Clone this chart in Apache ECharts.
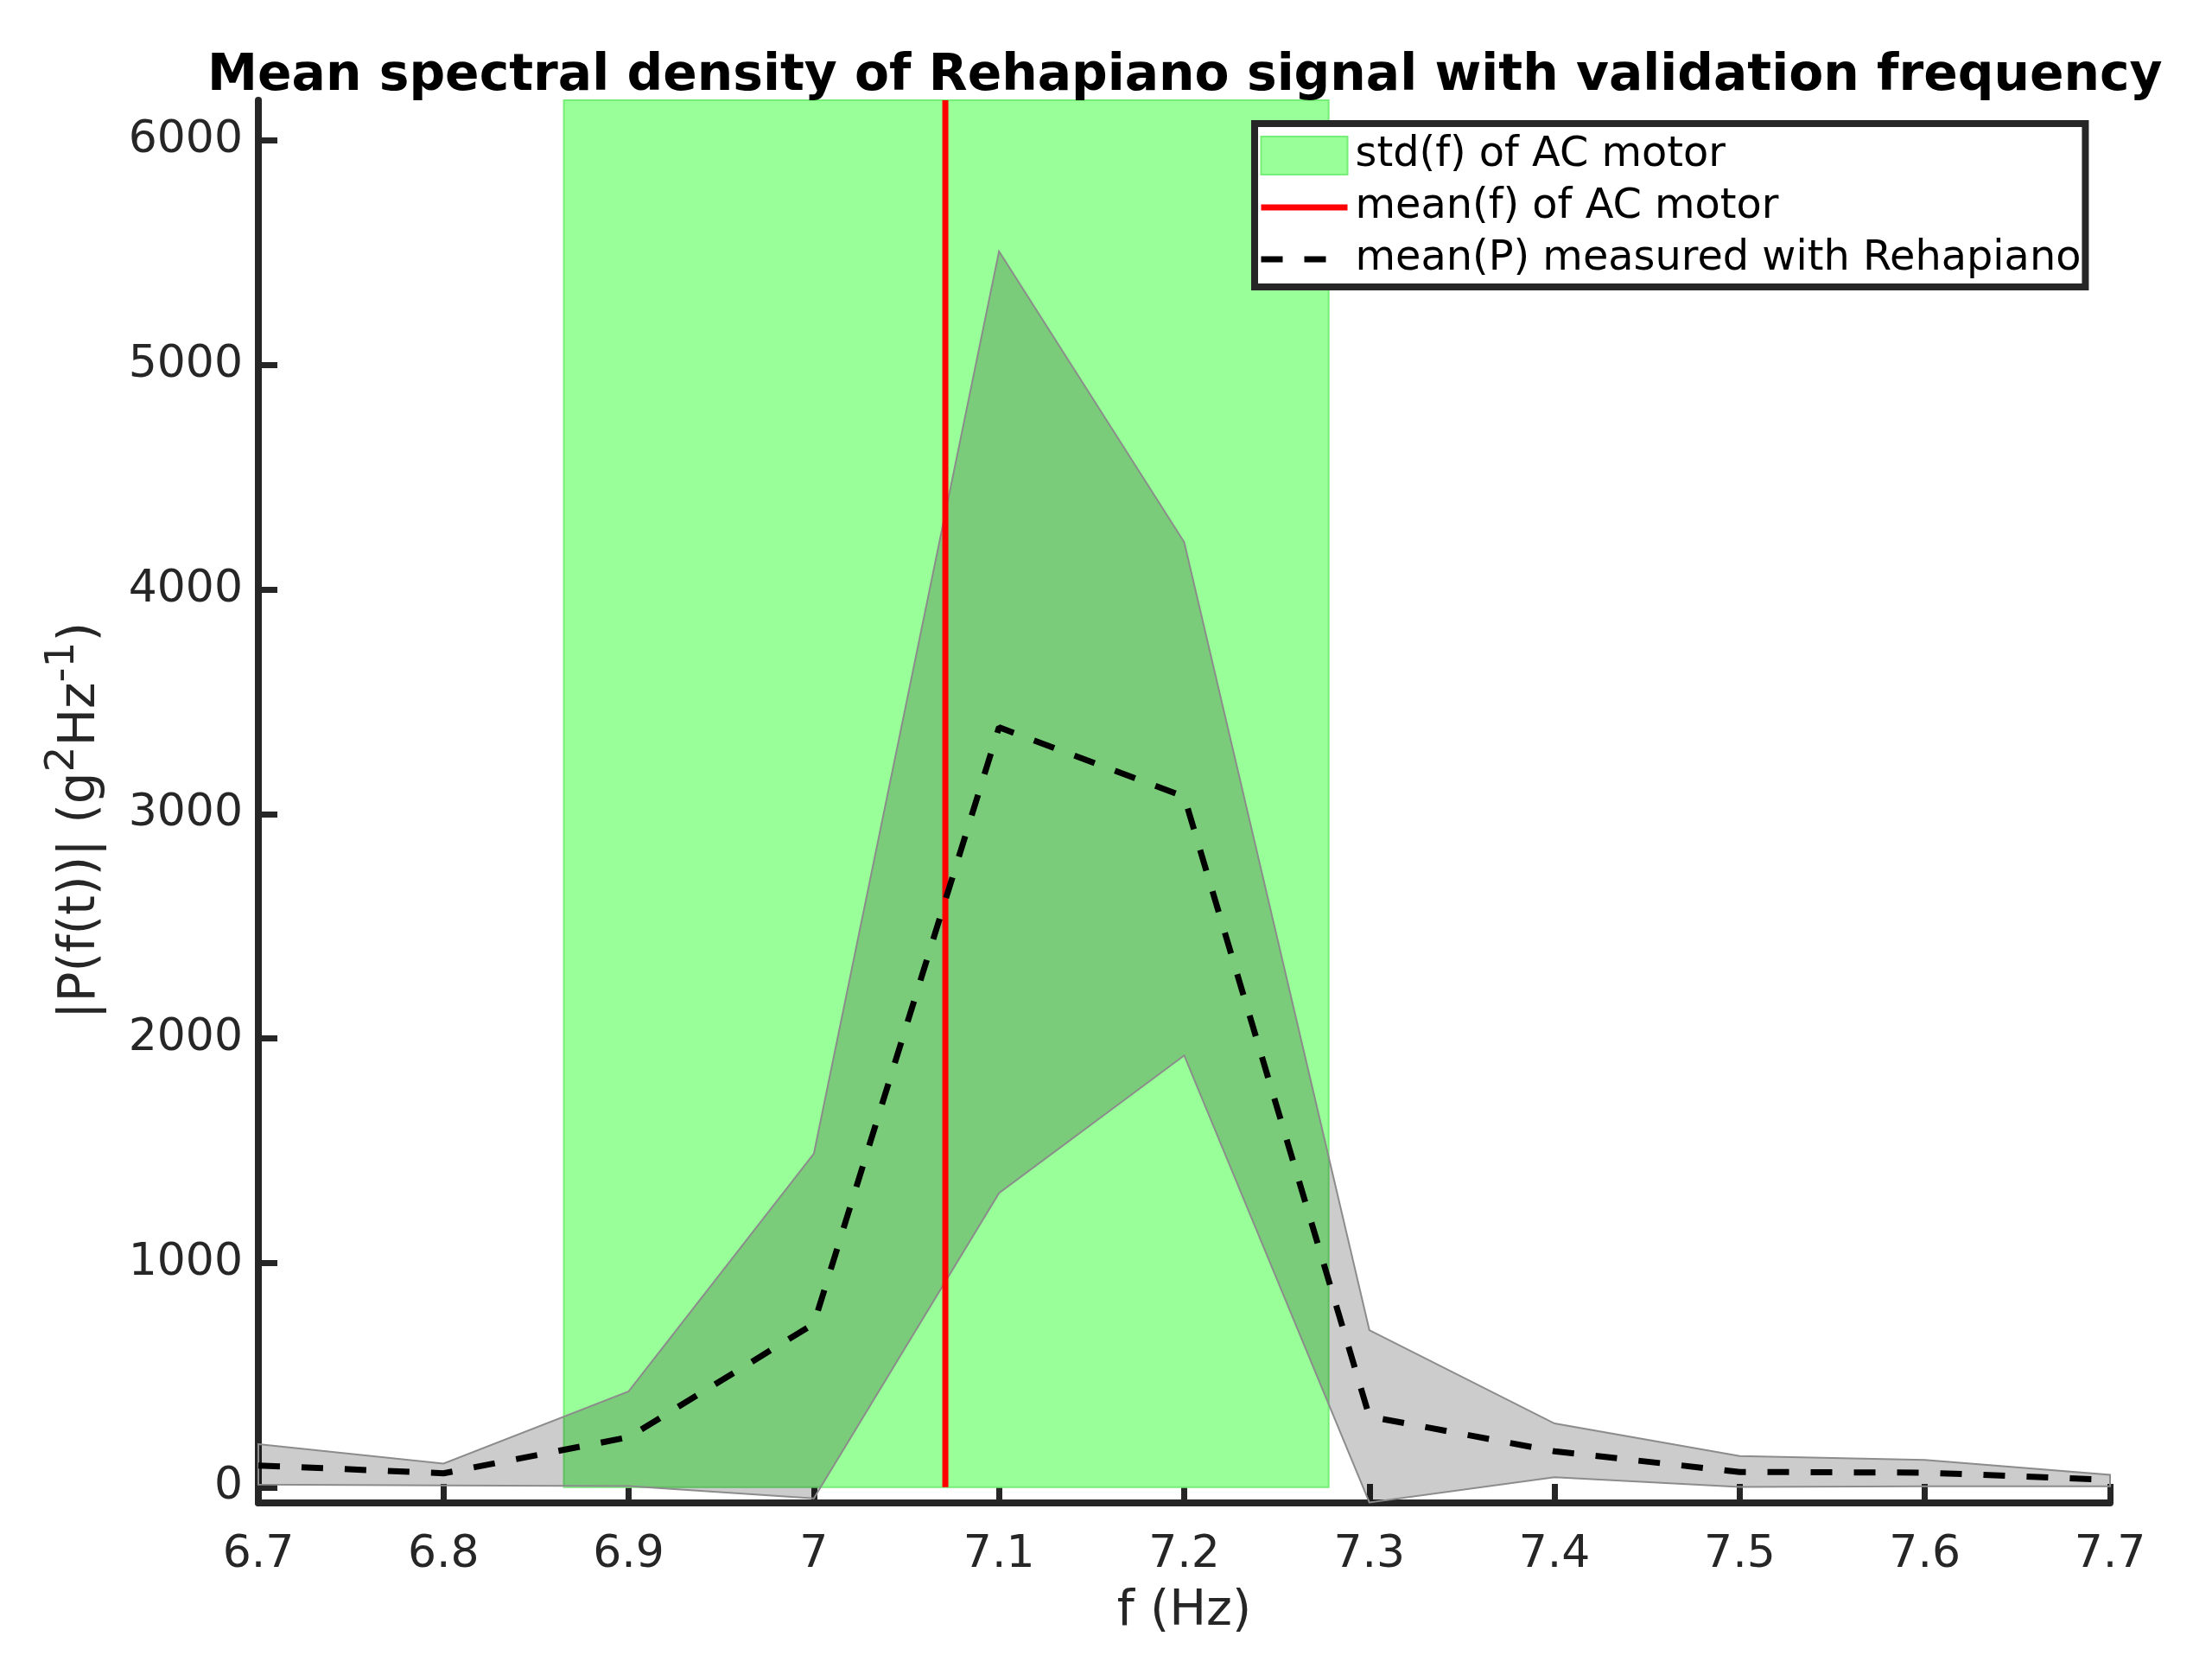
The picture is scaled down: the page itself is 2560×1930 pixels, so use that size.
<!DOCTYPE html>
<html>
<head>
<meta charset="utf-8">
<title>Mean spectral density</title>
<script src="https://cdn.jsdelivr.net/npm/echarts@6/dist/echarts.min.js"></script>
<style>
  html, body { margin: 0; padding: 0; background: #fff; }
  #main { width: 2560px; height: 1930px; }
</style>
</head>
<body>
<div id="main"></div>
<script>
// frequency bins (Hz)
var freq = [6.7, 6.8, 6.9, 7.0, 7.1, 7.2, 7.3, 7.4, 7.5, 7.6, 7.7];
// mean(P) and its band
var meanP = [97, 62, 223, 728, 3386, 3077, 315, 160, 68, 65, 33];
var upperP = [192, 105, 427, 1486, 5507, 4211, 700, 284, 139, 122, 55];
var lowerP = [12, 8, 5, -50, 1311, 1924, -68, 45, 1, 4, 4];
// AC motor: mean frequency and +-std
var motorMean = 7.071;
var motorStd = [6.865, 7.278];
// axes
var xTicks = [6.7, 6.8, 6.9, 7.0, 7.1, 7.2, 7.3, 7.4, 7.5, 7.6, 7.7];
var yTicks = [0, 1000, 2000, 3000, 4000, 5000, 6000];
var yMin = -70, yMax = 6180;

var font = 'DejaVu Sans';
var axisColor = '#262626';
var noSymbol = { color: 'rgba(0,0,0,0)', borderWidth: 0 };

var chart = echarts.init(document.getElementById('main'), null, { renderer: 'canvas' });

// grey band between lower and upper, one polygon
function renderBand(params, api) {
  if (params.dataIndex !== 0) return;
  var pts = [];
  for (var i = 0; i < freq.length; i++) pts.push(api.coord([freq[i], upperP[i]]));
  for (var j = freq.length - 1; j >= 0; j--) pts.push(api.coord([freq[j], lowerP[j]]));
  return {
    type: 'polygon',
    shape: { points: pts },
    style: { fill: 'rgba(0,0,0,0.2)', stroke: '#8c8c8c', lineWidth: 2 }
  };
}

var option = {
  animation: false,
  backgroundColor: '#fff',
  title: {
    text: 'Mean spectral density of Rehapiano signal with validation frequency',
    left: 235,
    top: 55,
    textStyle: { fontFamily: font, fontSize: 58.3, fontWeight: 'bold', color: '#000' }
  },
  grid: { left: 299, right: 118, top: 116, bottom: 191, containLabel: false },
  legend: {
    orient: 'vertical',
    left: 1452,
    top: 143,
    padding: [13, 5, 8, 4],
    itemWidth: 100,
    itemHeight: 44,
    itemGap: 12,
    borderColor: axisColor,
    borderWidth: 8,
    backgroundColor: '#fff',
    textStyle: { fontFamily: font, fontSize: 47.8, color: '#000', padding: [0, 0, 0, 4] },
    data: [
      { name: 'std(f) of AC motor', icon: 'rect',
        itemStyle: { color: '#99ff99', borderColor: '#77ee77', borderWidth: 2 } },
      { name: 'mean(f) of AC motor', itemStyle: noSymbol,
        lineStyle: { color: '#ff0000', width: 7 } },
      { name: 'mean(P) measured with Rehapiano', itemStyle: noSymbol,
        lineStyle: { color: '#000', width: 7, type: [25, 25] } }
    ]
  },
  xAxis: {
    type: 'value',
    min: xTicks[0],
    max: xTicks[xTicks.length - 1],
    interval: 0.1,
    name: 'f (Hz)',
    nameLocation: 'middle',
    nameGap: 98,
    nameTextStyle: { fontFamily: font, fontSize: 57, color: axisColor },
    axisLine: { onZero: false, lineStyle: { color: axisColor, width: 8 } },
    axisTick: { inside: true, length: 22, lineStyle: { color: axisColor, width: 7 } },
    axisLabel: {
      margin: 34, fontFamily: font, fontSize: 52, color: axisColor,
      formatter: function (v) { return String(Math.round(v * 10) / 10); }
    },
    splitLine: { show: false }
  },
  yAxis: {
    type: 'value',
    min: yMin,
    max: yMax,
    name: '|P(f(t))| (g{sup|2}Hz{sup|-1})',
    nameLocation: 'middle',
    nameGap: 142,
    nameTextStyle: {
      fontFamily: font, fontSize: 58, color: axisColor, lineHeight: 88,
      verticalAlign: 'bottom', padding: [0, 44, 0, 0],
      rich: { sup: { fontFamily: font, fontSize: 47, color: axisColor, verticalAlign: 'top', lineHeight: 47 } }
    },
    axisLine: { onZero: false, lineStyle: { color: axisColor, width: 8 } },
    axisTick: { inside: true, length: 22, customValues: yTicks, lineStyle: { color: axisColor, width: 7 } },
    axisLabel: {
      margin: 18, fontFamily: font, fontSize: 52, color: axisColor, customValues: yTicks,
      formatter: function (v) { return String(v); }
    },
    splitLine: { show: false }
  },
  series: [
    {
      // green std patch
      name: 'std(f) of AC motor',
      type: 'line',
      data: [],
      symbol: 'none',
      itemStyle: { color: '#99ff99' },
      lineStyle: { color: '#99ff99' },
      z: 1,
      markArea: {
        silent: true,
        z: 1,
        itemStyle: { color: '#99ff99', borderColor: '#77ee77', borderWidth: 2, opacity: 1 },
        data: [[{ coord: [motorStd[0], 0] }, { coord: [motorStd[1], yMax] }]]
      }
    },
    {
      name: 'band',
      type: 'custom',
      silent: true,
      renderItem: renderBand,
      data: freq.map(function (f, i) { return [f, upperP[i], lowerP[i]]; }),
      encode: { x: 0, y: [1, 2] },
      z: 2
    },
    {
      name: 'mean(f) of AC motor',
      type: 'line',
      symbol: 'none',
      data: [[motorMean, 0], [motorMean, yMax]],
      itemStyle: { color: '#ff0000' },
      lineStyle: { color: '#ff0000', width: 7 },
      z: 3
    },
    {
      name: 'mean(P) measured with Rehapiano',
      type: 'line',
      symbol: 'none',
      data: freq.map(function (f, i) { return [f, meanP[i]]; }),
      itemStyle: { color: '#000' },
      lineStyle: { color: '#000', width: 7, type: [25, 25] },
      z: 4
    }
  ]
};

chart.setOption(option);
</script>
</body>
</html>
